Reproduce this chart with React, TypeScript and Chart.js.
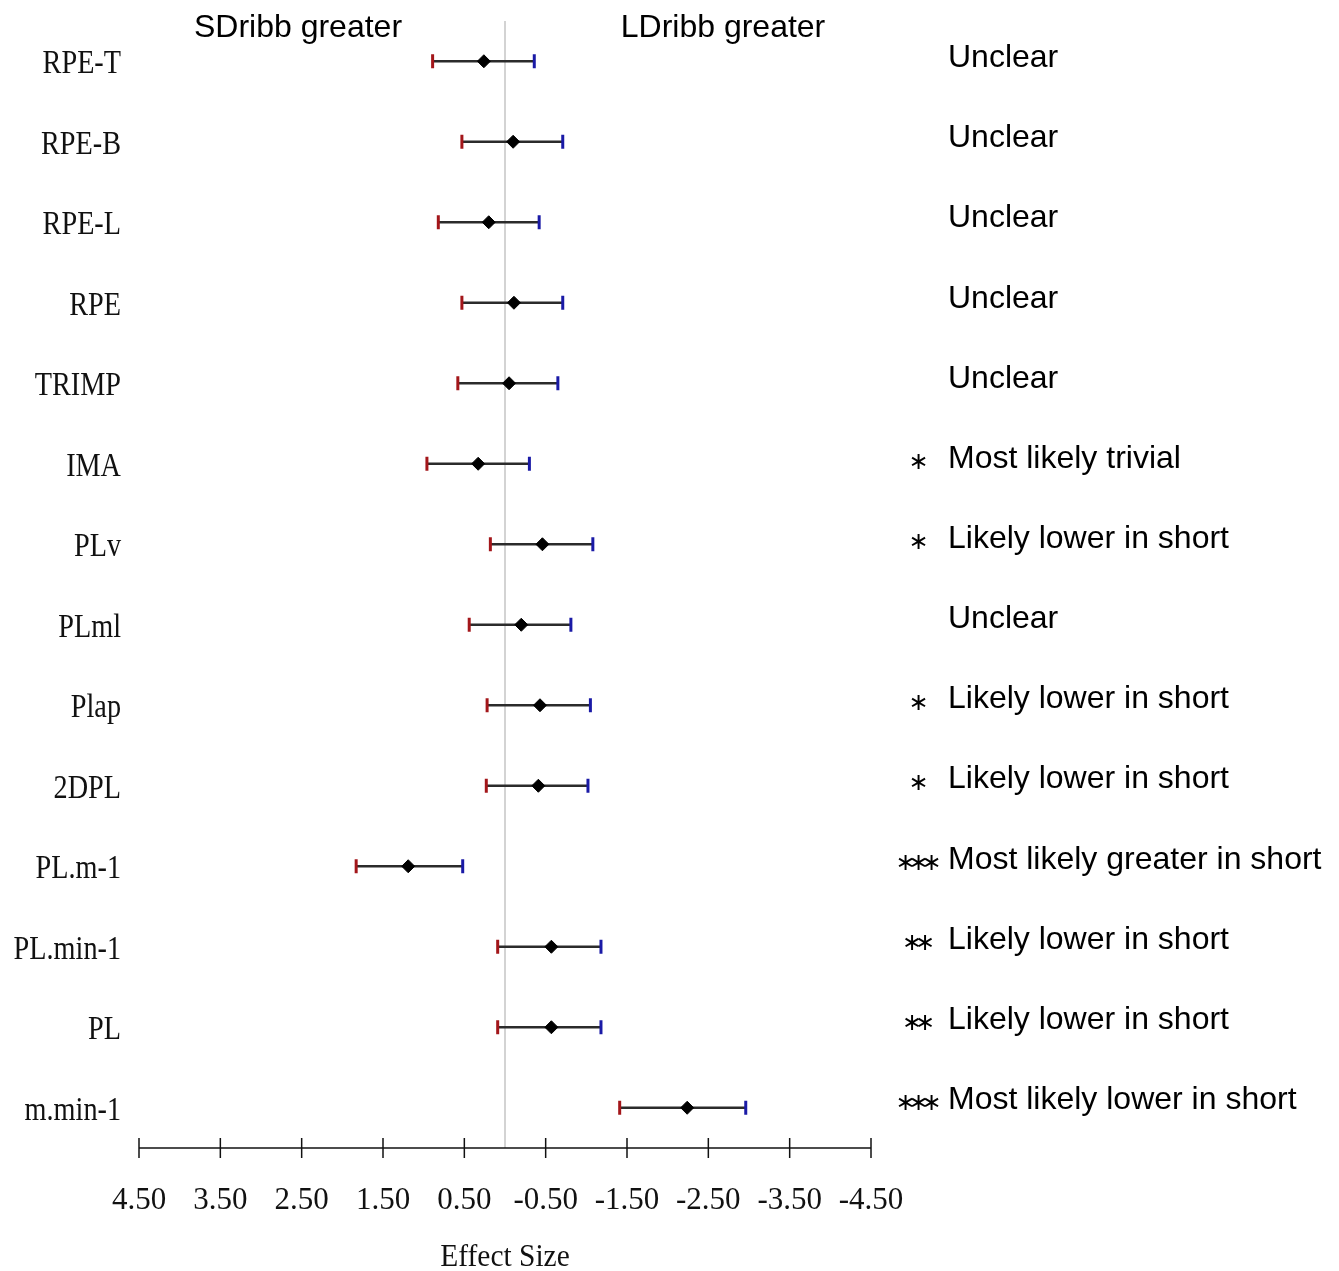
import React, { useEffect, useRef } from 'react';
import { Chart, registerables } from 'chart.js';

Chart.register(...registerables);

const LABELS = ['RPE-T', 'RPE-B', 'RPE-L', 'RPE', 'TRIMP', 'IMA', 'PLv', 'PLml', 'Plap', '2DPL', 'PL.m-1', 'PL.min-1', 'PL', 'm.min-1'];
const EFFECT = [0.26, -0.10, 0.20, -0.11, -0.05, 0.33, -0.46, -0.20, -0.43, -0.41, 1.19, -0.57, -0.57, -2.24];
const CI_HIGH = [0.89, 0.53, 0.82, 0.53, 0.58, 0.96, 0.18, 0.44, 0.22, 0.23, 1.83, 0.09, 0.09, -1.41];
const CI_LOW = [-0.36, -0.71, -0.42, -0.71, -0.65, -0.30, -1.08, -0.81, -1.05, -1.02, 0.52, -1.18, -1.18, -2.96];
const STARS = [0, 0, 0, 0, 0, 1, 1, 0, 1, 1, 3, 2, 2, 3];
const OUTCOMES = [
  'Unclear', 'Unclear', 'Unclear', 'Unclear', 'Unclear',
  'Most likely trivial', 'Likely lower in short', 'Unclear',
  'Likely lower in short', 'Likely lower in short', 'Most likely greater in short',
  'Likely lower in short', 'Likely lower in short', 'Most likely lower in short',
];
const TICK_VALUES = [4.5, 3.5, 2.5, 1.5, 0.5, -0.5, -1.5, -2.5, -3.5, -4.5];
const HEADERS = ['SDribb greater', 'LDribb greater'];
const AXIS_TITLE = 'Effect Size';

export default function App() {
  const ref = useRef<HTMLCanvasElement>(null);

  useEffect(() => {
    const canvas = ref.current;
    if (!canvas) return;

    const overlay = {
      id: 'overlay',
      beforeDatasetsDraw(chart: any) {
        const { ctx, chartArea, scales } = chart;
        const zx = scales.x.getPixelForValue(0);
        ctx.save();
        ctx.strokeStyle = '#c4c4c4';
        ctx.lineWidth = 1.5;
        ctx.beginPath();
        ctx.moveTo(zx, chartArea.top);
        ctx.lineTo(zx, chartArea.bottom);
        ctx.stroke();
        ctx.restore();
      },
      afterDraw(chart: any) {
        const { ctx, chartArea, scales } = chart;
        const xs = scales.x;
        const ys = scales.y;
        ctx.save();
        ctx.fillStyle = '#111';

        // left labels (condensed serif)
        ctx.font = '34px "Liberation Serif"';
        ctx.textAlign = 'right';
        ctx.textBaseline = 'middle';
        LABELS.forEach((lab, i) => {
          const y = ys.getPixelForValue(i);
          ctx.save();
          ctx.translate(121, y + 3);
          ctx.scale(0.83, 1);
          ctx.fillText(lab, 0, 0);
          ctx.restore();
        });

        // x axis
        const y0 = chartArea.bottom;
        ctx.strokeStyle = '#111';
        ctx.lineWidth = 1.5;
        ctx.beginPath();
        ctx.moveTo(xs.getPixelForValue(TICK_VALUES[0]), y0);
        ctx.lineTo(xs.getPixelForValue(TICK_VALUES[TICK_VALUES.length - 1]), y0);
        ctx.stroke();
        ctx.font = '31px "Liberation Serif"';
        ctx.textAlign = 'center';
        TICK_VALUES.forEach((v) => {
          const px = xs.getPixelForValue(v);
          ctx.beginPath();
          ctx.moveTo(px, y0 - 10);
          ctx.lineTo(px, y0 + 10);
          ctx.stroke();
          ctx.fillText(v.toFixed(2), px, 1201);
        });
        ctx.save();
        ctx.font = '32px "Liberation Serif"';
        ctx.translate(xs.getPixelForValue(0), 1258);
        ctx.scale(0.92, 1);
        ctx.fillText(AXIS_TITLE, 0, 0);
        ctx.restore();

        // headers
        ctx.font = '32px "Liberation Sans"';
        ctx.fillStyle = '#000';
        ctx.fillText(HEADERS[0], 298, 28);
        ctx.fillText(HEADERS[1], 723, 28);

        // stars + outcomes
        LABELS.forEach((_, i) => {
          const y = ys.getPixelForValue(i) - 3 - i * 0.35;
          ctx.font = '32px "Liberation Sans"';
          ctx.textAlign = 'left';
          ctx.fillText(OUTCOMES[i], 948, y);
          const n = STARS[i];
          ctx.font = '24px "DejaVu Sans"';
          ctx.textAlign = 'center';
          for (let k = 0; k < n; k++) {
            const sx = 918.5 + (k - (n - 1) / 2) * 13;
            ctx.fillText('\u2217', sx, y + 4);
          }
        });
        ctx.restore();
      },
    };

    const chart = new Chart(canvas, {
      type: 'bar',
      data: {
        labels: LABELS,
        datasets: [
          {
            type: 'scatter',
            data: LABELS.map((l, i) => ({ x: EFFECT[i], y: l })),
            pointStyle: 'rectRot',
            pointRadius: 6.5,
            backgroundColor: '#000',
            borderColor: '#000',
            borderWidth: 1,
          } as any,
          {
            type: 'scatter',
            data: LABELS.map((l, i) => ({ x: CI_HIGH[i], y: l })),
            pointStyle: 'line',
            rotation: 90,
            pointRadius: 7,
            borderColor: '#a3161a',
            borderWidth: 3,
          } as any,
          {
            type: 'scatter',
            data: LABELS.map((l, i) => ({ x: CI_LOW[i], y: l })),
            pointStyle: 'line',
            rotation: 90,
            pointRadius: 7,
            borderColor: '#1a1aa6',
            borderWidth: 3,
          } as any,
          {
            type: 'bar',
            data: LABELS.map((_, i) => [CI_LOW[i], CI_HIGH[i]]),
            backgroundColor: '#2b2b2b',
            borderWidth: 0,
            barThickness: 2,
          } as any,
        ],
      },
      options: {
        indexAxis: 'y',
        responsive: false,
        animation: false,
        layout: { padding: { left: 139, right: 468, top: 21, bottom: 123 } },
        plugins: { legend: { display: false }, tooltip: { enabled: false } },
        scales: {
          x: { type: 'linear', min: -4.5, max: 4.5, reverse: true, display: false },
          y: { type: 'category', display: false, offset: true },
        },
      } as any,
      plugins: [overlay],
    });

    return () => chart.destroy();
  }, []);

  return (
    <div style={{ position: 'absolute', left: 0, top: 0 }}>
      <canvas ref={ref} width={1339} height={1271} />
    </div>
  );
}
